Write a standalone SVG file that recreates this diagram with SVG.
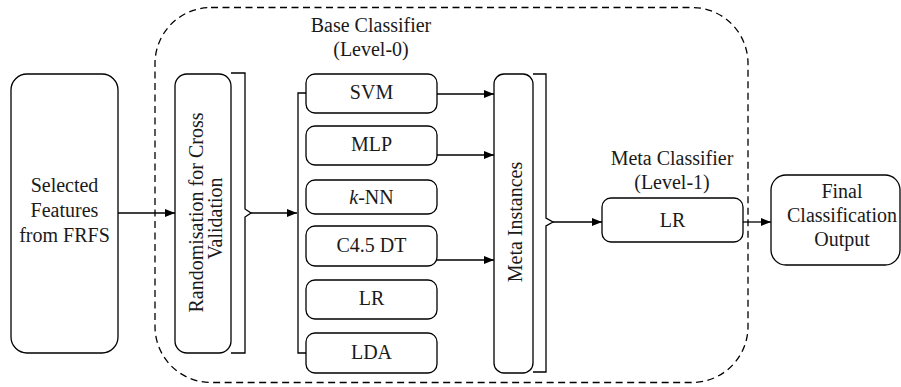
<svg xmlns="http://www.w3.org/2000/svg" width="901" height="387" viewBox="0 0 901 387">
  <defs>
    <marker id="arrow" viewBox="0 0 10 8" refX="10" refY="4" markerWidth="10" markerHeight="8" markerUnits="userSpaceOnUse" orient="auto">
      <path d="M0,0 L10,4 L0,8 Z" fill="#000"/>
    </marker>
  </defs>
  <style>
    .box { fill: #fff; stroke: #000; stroke-width: 1.3; }
    .line { fill: none; stroke: #000; stroke-width: 1.3; }
    .arrow { fill: none; stroke: #000; stroke-width: 1.3; marker-end: url(#arrow); }
    .dash { fill: none; stroke: #000; stroke-width: 1.3; stroke-dasharray: 7 4.5; }
    .c { text-anchor: middle; }
  </style>
  <rect width="901" height="387" fill="#fff"/>

  <g font-family="'Liberation Serif', 'DejaVu Serif', serif" font-size="20" fill="#1a1a1a">

  <!-- stacking ensemble boundary -->
  <g id="ensemble">
    <rect class="dash" x="155" y="7.5" width="593" height="375" rx="56" ry="56"/>
    <text class="c" x="371" y="32">Base Classifier</text>
    <text class="c" x="371" y="56">(Level-0)</text>
    <text class="c" x="672" y="165">Meta Classifier</text>
    <text class="c" x="672" y="189">(Level-1)</text>
  </g>

  <g id="features">
    <rect class="box" x="11" y="74" width="107" height="279" rx="16"/>
    <text class="c" x="64.5" y="192">Selected</text>
    <text class="c" x="64.5" y="217">Features</text>
    <text class="c" x="64.5" y="242">from FRFS</text>
  </g>

  <g id="randomisation">
    <rect class="box" x="175" y="74" width="56" height="279" rx="12"/>
    <text class="c" transform="translate(203,212.5) rotate(-90)">Randomisation for Cross</text>
    <text class="c" transform="translate(222,218.5) rotate(-90)">Validation</text>
  </g>

  <g id="svm">
    <rect class="box" x="306" y="74" width="131" height="39" rx="9"/>
    <text class="c" x="371.5" y="99">SVM</text>
  </g>
  <g id="mlp">
    <rect class="box" x="306" y="126" width="131" height="39" rx="9"/>
    <text class="c" x="371.5" y="151">MLP</text>
  </g>
  <g id="knn">
    <rect class="box" x="306" y="180" width="131" height="34" rx="9"/>
    <text class="c" x="371.5" y="204"><tspan font-style="italic">k</tspan>-NN</text>
  </g>
  <g id="c45dt">
    <rect class="box" x="306" y="226" width="131" height="40" rx="9"/>
    <text class="c" x="371.5" y="252">C4.5 DT</text>
  </g>
  <g id="lr-base">
    <rect class="box" x="306" y="280" width="131" height="39" rx="9"/>
    <text class="c" x="371.5" y="305">LR</text>
  </g>
  <g id="lda">
    <rect class="box" x="306" y="333" width="131" height="40" rx="9"/>
    <text class="c" x="371.5" y="359">LDA</text>
  </g>

  <g id="meta-instances">
    <rect class="box" x="494" y="74" width="39" height="299" rx="10"/>
    <text class="c" transform="translate(522,222) rotate(-90)">Meta Instances</text>
  </g>

  <g id="lr-meta">
    <rect class="box" x="602" y="198" width="141" height="44" rx="9"/>
    <text class="c" x="672.5" y="227">LR</text>
  </g>

  <g id="final-output">
    <rect class="box" x="771" y="175" width="129" height="90" rx="15"/>
    <text class="c" x="842" y="198">Final</text>
    <text class="c" x="842" y="222">Classification</text>
    <text class="c" x="842" y="246">Output</text>
  </g>

  </g>

  <g id="connectors">
    <!-- features to randomisation -->
    <path class="arrow" d="M118,213 H175"/>
    <!-- brace after randomisation -->
    <path class="line" d="M231,73 H245 V209 L251,213 L245,217 V353 H231"/>
    <path class="arrow" d="M251,213 H297"/>
    <!-- fan-out bar to base classifiers -->
    <path class="line" d="M306,93 H298 V353 H306"/>
    <!-- base classifier predictions -->
    <path class="arrow" d="M437,94 H494"/>
    <path class="arrow" d="M437,155 H494"/>
    <path class="arrow" d="M437,260 H494"/>
    <!-- brace after meta instances -->
    <path class="line" d="M533,74 H546 V218 L553,222 L546,226 V372 H533"/>
    <path class="arrow" d="M553,222 H602"/>
    <!-- meta classifier to output -->
    <path class="arrow" d="M743,222 H771"/>
  </g>
</svg>
